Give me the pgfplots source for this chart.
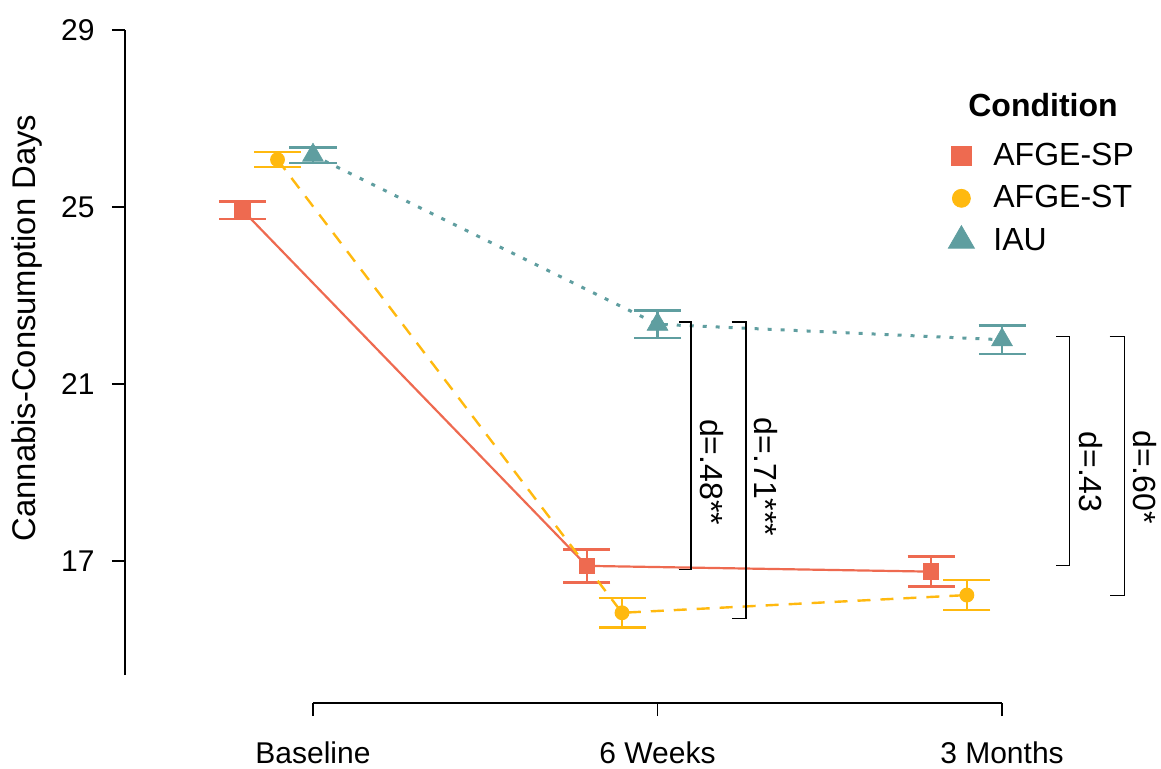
\documentclass[border=0pt]{standalone}
\usepackage{fontspec}
\setmainfont{Liberation Sans}
\usepackage{pgfplots}
\usepackage{pgfplotstable}
\pgfplotsset{compat=1.18}
\definecolor{cSP}{HTML}{EE6A50}
\definecolor{cST}{HTML}{FFB90F}
\definecolor{cIAU}{HTML}{5F9EA0}

\pgfplotstableread{
x y e
0.795 24.93 0.20
1.795 16.89 0.37
2.794 16.76 0.34
}\tSP
\pgfplotstableread{
x y e
0.897 26.07 0.17
1.897 15.83 0.33
2.898 16.23 0.34
}\tST
\pgfplotstableread{
x y e
1.000 26.17 0.18
2.000 22.35 0.31
3.000 22.00 0.32
}\tIAU

\begin{document}
\begin{tikzpicture}
\path[use as bounding box] (0,0) rectangle (580.5pt,384pt);
\begin{axis}[
  at={(62.5pt,32.5pt)}, anchor=south west,
  scale only axis, width=518pt, height=336.5pt,
  xmin=0.4543, xmax=3.4615, ymin=13.791, ymax=29,
  clip=false,
  axis line style={draw=none},
  xtick={1,2,3}, xticklabels={Baseline,6 Weeks,3 Months},
  ytick={17,21,25,29},
  tick align=outside, xtick pos=left, ytick pos=left,
  major tick length=6.5pt,
  tick style={black, line width=0.6pt},
  ticklabel style={font=\fontsize{15}{18}\selectfont},
  /pgf/number format/assume math mode=true,
  yticklabel style={anchor=east, inner sep=0pt, xshift=-8.5pt},
  xticklabel style={anchor=north, inner sep=0pt, yshift=-12.5pt},
  ylabel={Cannabis-Consumption Days},
  every axis y label/.style={at={(axis description cs:-0.0946,0.5572)}, rotate=90, anchor=center, font=\fontsize{16.4}{19}\selectfont},
  legend cell align=left,
  legend style={draw=none, fill=none, at={(axis cs:2.8258,25.20)}, anchor=west, font=\fontsize{16}{19}\selectfont, row sep=4.6pt,
    /tikz/every odd column/.append style={column sep=7.5pt}},
]
% axis lines (R style)
\draw[black, line width=0.6pt] (axis cs:0.4543,14.42) -- (axis cs:0.4543,29);
\draw[black, line width=0.6pt] (axis cs:1,13.791) -- (axis cs:3,13.791);

\addplot[forget plot, cSP, line width=1.1pt, mark=square*, mark size=3.6pt, mark options={solid, fill=cSP},
  error bars/.cd, y dir=both, y explicit, error mark=|,
  error bar style={solid, line width=1.1pt, cSP},
  error mark options={solid, line width=1.3pt, cSP, mark size=11.75pt}]
  table[x=x, y=y, y error=e]{\tSP};
\addplot[forget plot, cST, line width=1.2pt, dash pattern=on 6.5pt off 5pt, mark=*, mark size=3.1pt, mark options={solid, fill=cST},
  error bars/.cd, y dir=both, y explicit, error mark=|,
  error bar style={solid, line width=1.1pt, cST},
  error mark options={solid, line width=1.3pt, cST, mark size=11.75pt}]
  table[x=x, y=y, y error=e]{\tST};
\addplot[forget plot, cIAU, line width=1.5pt, dash pattern=on 2pt off 4.5pt, mark=triangle*, mark size=6pt, mark options={solid, fill=cIAU, line width=0.3pt},
  error bars/.cd, y dir=both, y explicit, error mark=|,
  error bar style={solid, line width=1.1pt, cIAU},
  error mark options={solid, line width=1.3pt, cIAU, mark size=11.75pt}]
  table[x=x, y=y, y error=e]{\tIAU};

% brackets
\addplot[forget plot, black, line width=0.6pt, mark=none] coordinates {(2.0624,22.40)(2.0973,22.40)(2.0973,16.80)(2.0624,16.80)};
\addplot[forget plot, black, line width=0.6pt, mark=none] coordinates {(2.2154,22.40)(2.2569,22.40)(2.2569,15.70)(2.2154,15.70)};
\addplot[forget plot, black, line width=0.6pt, mark=none] coordinates {(3.157,22.07)(3.1953,22.07)(3.1953,16.894)(3.157,16.894)};
\addplot[forget plot, black, line width=0.6pt, mark=none] coordinates {(3.312,22.07)(3.355,22.07)(3.355,16.216)(3.312,16.216)};

\node[rotate=-90, font=\fontsize{16}{19}\selectfont, inner sep=0pt] at (axis cs:2.1582,19.011) {d=.48**};
\node[rotate=-90, font=\fontsize{16}{19}\selectfont, inner sep=0pt] at (axis cs:2.315,18.898) {d=.71***};
\node[rotate=-90, font=\fontsize{16}{19}\selectfont, inner sep=0pt] at (axis cs:3.2584,19.011) {d=.43};
\node[rotate=-90, font=\fontsize{16}{19}\selectfont, inner sep=0pt] at (axis cs:3.415,18.898) {d=.60*};

% legend
\node[font=\bfseries\fontsize{16}{19}\selectfont, inner sep=0pt] at (axis cs:3.119,27.305) {Condition};
\addlegendimage{only marks, mark=square*, cSP, fill=cSP, mark size=4.8pt}
\addlegendentry{AFGE-SP}
\addlegendimage{only marks, mark=*, cST, fill=cST, mark size=4.5pt}
\addlegendentry{AFGE-ST}
\addlegendimage{only marks, mark=triangle*, cIAU, fill=cIAU, mark size=7.5pt}
\addlegendentry{IAU}
\end{axis}
\end{tikzpicture}
\end{document}
